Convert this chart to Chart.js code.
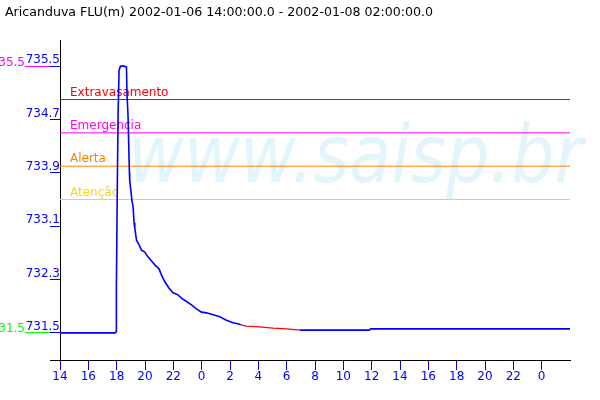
<!DOCTYPE html>
<html>
<head>
<meta charset="utf-8">
<script src="https://cdn.jsdelivr.net/npm/chart.js@4"></script>
<style>
html, body { margin: 0; padding: 0; background: #fff; }
</style>
</head>
<body>
<canvas id="chart" width="600" height="400"></canvas>
<script>
const title = 'Aricanduva FLU(m) 2002-01-06 14:00:00.0 - 2002-01-08 02:00:00.0';

// hours since 2002-01-06 14:00
const hours = [0, 3.9, 3.97, 3.98, 4.05, 4.10, 4.17, 4.27, 4.5, 4.69,
  4.73, 4.80, 4.90, 4.92, 5.08, 5.16, 5.23, 5.28, 5.40, 5.58,
  5.75, 5.98, 6.21, 6.45, 6.69, 6.99, 7.16, 7.39, 7.70, 7.98,
  8.33, 8.57, 8.93, 9.28, 9.63, 9.99, 10.34, 10.81, 11.28, 11.75,
  12.22, 12.69, 12.76, 13.16, 14.10, 15.04, 15.99, 16.93, 17.05, 21.82,
  21.94, 36];
const levels = [731.50, 731.50, 731.52, 732.17, 733.79, 734.77, 735.44, 735.50, 735.50, 735.49,
  735.07, 734.77, 733.90, 733.79, 733.48, 733.39, 733.15, 733.07, 732.89, 732.82,
  732.74, 732.71, 732.64, 732.58, 732.52, 732.46, 732.37, 732.27, 732.17, 732.10,
  732.07, 732.02, 731.97, 731.92, 731.86, 731.81, 731.80, 731.77, 731.74, 731.69,
  731.65, 731.63, 731.62, 731.60, 731.59, 731.57, 731.56, 731.54, 731.54, 731.54,
  731.56, 731.56];
// stretch drawn in red (estimated values)
const estimatedSpan = [12.76, 16.93];

const alertNames = ['Extravasamento', 'Emergencia', 'Alerta', 'Atenção'];
const alertLevels = [735.0, 734.5, 734.0, 733.5];
const alertColors = ['#ff0000', '#ff00ff', '#ff8000', '#ffd800'];

const yTicks = [731.5, 732.3, 733.1, 733.9, 734.7, 735.5];
const xTickHours = [0, 2, 4, 6, 8, 10, 12, 14, 16, 18, 20, 22, 24, 26, 28, 30, 32, 34];
const xTickLabels = ['14', '16', '18', '20', '22', '0', '2', '4', '6', '8', '10', '12', '14', '16', '18', '20', '22', '0'];

const font12 = { family: '"DejaVu Sans"', size: 12 };
const maxLevel = Math.max(...levels);
const minLevel = Math.min(...levels);

function isEstimated(c) {
    return c.p0.parsed.x >= estimatedSpan[0] && c.p1.parsed.x <= estimatedSpan[1];
}

const extras = {
    id: 'extras',
    beforeDatasetsDraw(chart) {
        const ctx = chart.ctx;
        const area = chart.chartArea;
        const y = chart.scales.y;
        // watermark
        ctx.save();
        ctx.font = 'italic 80px "DejaVu Sans"';
        ctx.fillStyle = '#e3f5fc';
        const w = ctx.measureText('www.saisp.br').width;
        ctx.translate(128, 182);
        ctx.scale(455 / w, 1);
        ctx.fillText('www.saisp.br', 0, 0);
        ctx.restore();
        // alert labels
        ctx.save();
        ctx.font = '12px "DejaVu Sans"';
        ctx.textAlign = 'left';
        ctx.textBaseline = 'alphabetic';
        alertNames.forEach((name, i) => {
            ctx.fillStyle = alertColors[i];
            ctx.fillText(name, area.left + 10, y.getPixelForValue(alertLevels[i]) - 4);
        });
        ctx.restore();
    },
    afterDraw(chart) {
        const ctx = chart.ctx;
        const area = chart.chartArea;
        const y = chart.scales.y;
        ctx.save();
        ctx.font = '12.6px "DejaVu Sans"';
        ctx.fillStyle = '#000';
        ctx.textBaseline = 'alphabetic';
        ctx.fillText(title, 5, 16);
        // max / min markers left of the axis
        ctx.font = '12px "DejaVu Sans"';
        ctx.textAlign = 'right';
        [[maxLevel, '#ff00ff'], [minLevel, '#00ff00']].forEach(([v, col]) => {
            const py = Math.floor(y.getPixelForValue(v)) + 0.5;
            ctx.fillStyle = col;
            ctx.fillText(v.toFixed(1), 25, py - 1);
            ctx.strokeStyle = col;
            ctx.lineWidth = 1;
            ctx.beginPath();
            ctx.moveTo(25, py);
            ctx.lineTo(area.left - 10, py);
            ctx.stroke();
        });
        // x axis line runs a little past the y axis
        ctx.strokeStyle = '#000';
        ctx.beginPath();
        ctx.moveTo(area.left - 10, area.bottom + 0.5);
        ctx.lineTo(area.left, area.bottom + 0.5);
        ctx.stroke();
        ctx.restore();
    }
};

const datasets = [{
    data: hours.map((h, i) => ({ x: h, y: levels[i] })),
    borderColor: '#0000ff',
    borderWidth: 1.6,
    segment: {
        borderColor: c => isEstimated(c) ? '#ff0000' : '#0000ff',
        borderWidth: c => isEstimated(c) ? 1.3 : 1.6
    }
}];
alertLevels.forEach((v, i) => {
    datasets.push({
        data: [{ x: 0, y: v }, { x: 36, y: v }],
        borderColor: alertColors[i],
        borderWidth: 1
    });
});

new Chart(document.getElementById('chart'), {
    type: 'line',
    data: { datasets },
    plugins: [extras],
    options: {
        responsive: false,
        animation: false,
        devicePixelRatio: 1,
        layout: { padding: { top: 40, right: 30, left: 0, bottom: 0 } },
        elements: { point: { radius: 0 }, line: { tension: 0 } },
        scales: {
            x: {
                type: 'linear',
                min: 0,
                max: 36,
                afterBuildTicks: s => { s.ticks = xTickHours.map(v => ({ value: v })); },
                afterFit: s => { s.height = 40; },
                ticks: {
                    color: '#0000ff',
                    font: font12,
                    padding: 0,
                    maxRotation: 0,
                    autoSkip: false,
                    callback: (v, i) => xTickLabels[i]
                },
                grid: { drawOnChartArea: false, color: '#0000ff', tickLength: 10 },
                border: { color: '#000', width: 1 }
            },
            y: {
                // half-pixel offset keeps the 1px alert lines crisp
                min: 731.0925,
                max: 735.8925,
                afterBuildTicks: s => { s.ticks = yTicks.map(v => ({ value: v })); },
                afterFit: s => { s.width = 60; },
                ticks: {
                    color: '#0000ff',
                    font: font12,
                    padding: -10,
                    labelOffset: -6,
                    callback: v => v.toFixed(1)
                },
                grid: { drawOnChartArea: false, color: '#0000ff', tickLength: 10 },
                border: { color: '#000', width: 1 }
            }
        },
        plugins: {
            legend: { display: false },
            tooltip: { enabled: false },
            title: { display: false }
        }
    }
});
</script>
</body>
</html>
